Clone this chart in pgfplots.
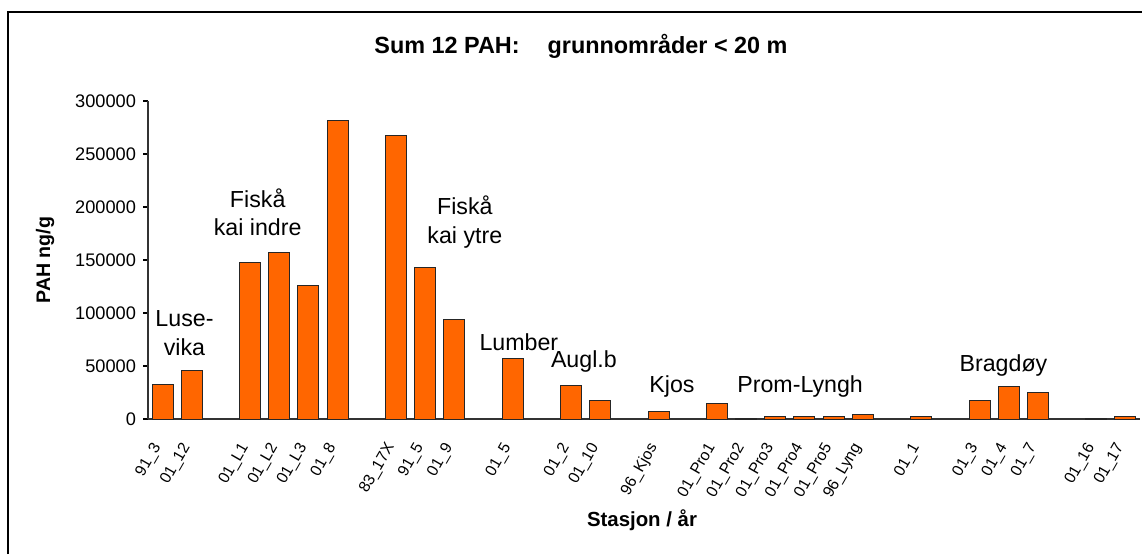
\documentclass[border=0pt]{standalone}
\usepackage{pgfplots}
\pgfplotsset{compat=1.18}
\usepackage{fontspec}
\setmainfont{Liberation Sans}
\definecolor{barorange}{HTML}{FF6600}
\begin{document}
\begin{tikzpicture}
\useasboundingbox (0,0) rectangle (571.5pt,277pt);
\draw[line width=0.8pt] (4pt,0) -- (4pt,271pt) -- (571pt,271pt);
\node[font=\bfseries\fontsize{11.7}{13}\selectfont] at (290.5pt,254pt) {Sum 12 PAH:\hspace{14pt}grunnområder < 20 m};
\node[font=\bfseries\fontsize{9.8}{11}\selectfont,rotate=90] at (22.5pt,147pt) {PAH ng/g};
\node[font=\bfseries\fontsize{10.2}{12}\selectfont] at (321pt,17pt) {Stasjon / år};
\begin{axis}[
  at={(74pt,67.5pt)}, anchor=south west,
  scale only axis, width=496pt, height=159pt,
  xmin=-0.5, xmax=33.5, ymin=0, ymax=300000,
  axis x line=bottom, axis y line=left,
  axis line style={-, line width=0.6pt, black!80},
  ytick={0,50000,...,300000},
  scaled y ticks=false,
  /pgf/number format/assume math mode=true,
  yticklabel style={/pgf/number format/fixed,/pgf/number format/set thousands separator={},font=\fontsize{9.1}{10}\selectfont},
  y tick style={black, line width=0.6pt},
  tick align=outside, major tick length=2.5pt,
  xtick={0,1,3,4,5,6,8,9,10,12,14,15,17,19,20,21,22,23,24,26,28,29,30,32,33},
  xticklabels={91\_3,01\_12,01\_L1,01\_L2,01\_L3,01\_8,83\_17X,91\_5,01\_9,01\_5,01\_2,01\_10,96\_Kjos,01\_Pro1,01\_Pro2,01\_Pro3,01\_Pro4,01\_Pro5,96\_Lyng,01\_1,01\_3,01\_4,01\_7,01\_16,01\_17},
  x tick style={draw=none},
  xticklabel style={xshift=-6pt, yshift=-7pt, rotate=60, anchor=north east, font=\fontsize{7.9}{8}\selectfont, inner sep=1pt},
  clip=false,
]
\addplot[ybar, bar width=10.5pt, fill=barorange, draw=black!85, line width=0.5pt] coordinates {
 (0,32100) (1,45300)
 (3,148000) (4,157500) (5,126400) (6,282000)
 (8,267300) (9,143400) (10,94000)
 (12,57200)
 (14,31800) (15,17000)
 (17,7500)
 (19,14200) (20,800) (21,2200) (22,2200) (23,2200) (24,4700)
 (26,2200)
 (28,17000) (29,30500) (30,25200)
 (32,700) (33,2200)
};
\begin{scope}[every node/.style={font=\fontsize{11.6}{14.2}\selectfont, align=center, inner sep=0pt}]
\node at (axis cs:0.75,81100) {Luse-\\vika};
\node at (axis cs:3.26,195300) {Fiskå\\kai indre};
\node at (axis cs:10.36,185800) {Fiskå\\kai ytre};
\node at (axis cs:12.21,72600) {Lumber};
\node at (axis cs:14.44,53800) {Augl.b};
\node at (axis cs:17.46,30200) {Kjos};
\node at (axis cs:21.85,30200) {Prom-Lyngh};
\node at (axis cs:28.82,50900) {Bragdøy};
\end{scope}
\end{axis}
\end{tikzpicture}
\end{document}
